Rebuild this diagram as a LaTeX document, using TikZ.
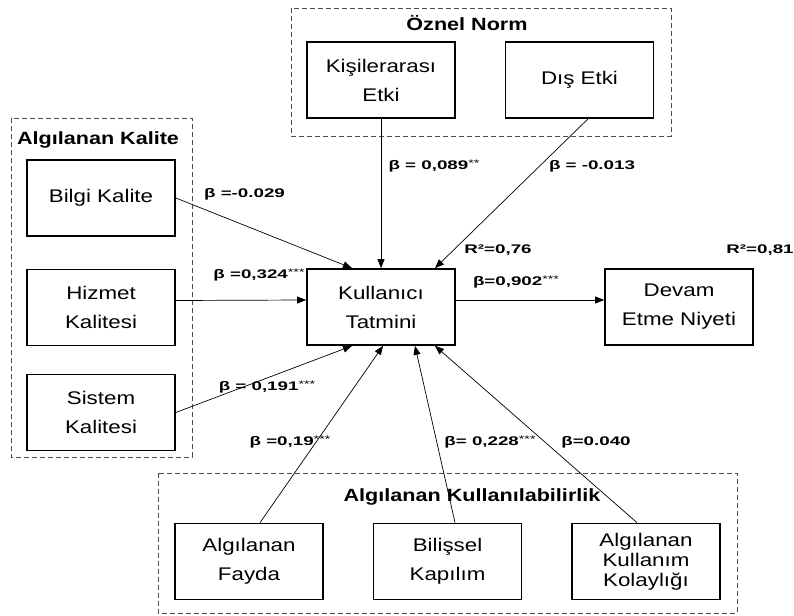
\documentclass[tikz,border=0pt]{standalone}
\usepackage{fontspec}
\setmainfont{Liberation Sans}[FakeStretch=1.22]
\newfontfamily\lblfont{Liberation Sans}[FakeStretch=1.5]
\usetikzlibrary{arrows.meta}

\tikzset{
  kutu/.style={draw, line width=1.7pt, minimum width=148pt, minimum height=76pt,
    align=center, font=\fontsize{18.3}{29}\selectfont},
  grup/.style={draw=black!70, dash pattern=on 5pt off 3pt, line width=0.9pt},
  baslik/.style={font=\fontsize{17.7}{20}\selectfont\bfseries},
  katsayi/.style={font=\lblfont\fontsize{12.5}{14}\selectfont\bfseries},
  ok/.style={-{Triangle[length=9pt,width=7pt]}, line width=0.7pt},
}
\newcommand{\yildiz}[1]{\raisebox{0.45ex}{\mdseries\fontsize{9.5}{10}\selectfont #1}}

\begin{document}
\begin{tikzpicture}[x=1pt,y=-1pt]
			\useasboundingbox (0,0) rectangle (794,615);

			% gruplar
			\draw[grup] (291,8) rectangle (671,136);
			\draw[grup] (11,118) rectangle (192,457);
			\draw[grup] (158,473) rectangle (737,613);
			\node[baslik] (tOznel) at (467,23) {Öznel Norm};
			\node[baslik] (tKalite) at (98,140) {Algılanan Kalite};
			\node[baslik] (tKullan) at (472,497) {Algılanan Kullanılabilirlik};

			% kutular
			\node[kutu] (kisi) at (381,80) {Kişilerarası\\Etki};
			\node[kutu] (dis) at (579.5,80) {Dış Etki};
			\node[kutu] (bilgi) at (101,198) {Bilgi Kalite};
			\node[kutu] (hizmet) at (101,307.5) {Hizmet\\Kalitesi};
			\node[kutu] (sistem) at (101,412.5) {Sistem\\Kalitesi};
			\node[kutu] (kull) at (381,307) {Kullanıcı\\Tatmini};
			\node[kutu] (devam) at (679,307) {Devam\\Etme Niyeti};
			\node[kutu] (fayda) at (249,561.5) {Algılanan\\Fayda};
			\node[kutu] (bilis) at (447.5,561.5) {Bilişsel\\Kapılım};
			\node[kutu, font=\fontsize{18.3}{20}\selectfont] (kolay) at (646,561.5) {Algılanan\\Kullanım\\Kolaylığı};

			% oklar
			\draw[ok] (bilgi.east) -- ([xshift=-29pt]kull.north);
			\draw[ok] (kisi.south) -- (kull.north);
			\draw[ok] ([xshift=8.5pt]dis.south) -- ([xshift=54pt]kull.north);
			\draw[ok] ([yshift=7pt]hizmet.east) -- ([yshift=7pt]kull.west);
			\draw[ok] (sistem.east) -- ([xshift=-29pt]kull.south);
			\draw[ok] ([xshift=11pt]fayda.north) -- ([xshift=2pt]kull.south);
			\draw[ok] ([xshift=7.5pt]bilis.north) -- ([xshift=34pt]kull.south);
			\draw[ok] ([xshift=-9pt]kolay.north) -- ([xshift=54pt]kull.south);
			\draw[ok] ([yshift=7pt]kull.east) -- ([yshift=7pt]devam.west);

			% katsayilar
			\node[katsayi] (kBilgi) at (244.5,194) {β =-0.029};
			\node[katsayi] (kHizmet) at (259,275) {β =0,324\yildiz{***}};
			\node[katsayi] (kSistem) at (267,387) {β = 0,191\yildiz{***}};
			\node[katsayi] (kKisi) at (434,166) {β = 0,089\yildiz{**}};
			\node[katsayi] (kDis) at (592,166) {β = -0.013};
			\node[katsayi] (r1) at (498,250) {R²=0,76};
			\node[katsayi] (r2) at (760,250) {R²=0,81};
			\node[katsayi] (kDevam) at (516,282) {β=0,902\yildiz{***}};
			\node[katsayi] (kFayda) at (290,442) {β =0,19\yildiz{***}};
			\node[katsayi] (kBilis) at (490,442) {β= 0,228\yildiz{***}};
			\node[katsayi] (kKolay) at (596,442) {β=0.040};
		  \end{tikzpicture}
\end{document}
